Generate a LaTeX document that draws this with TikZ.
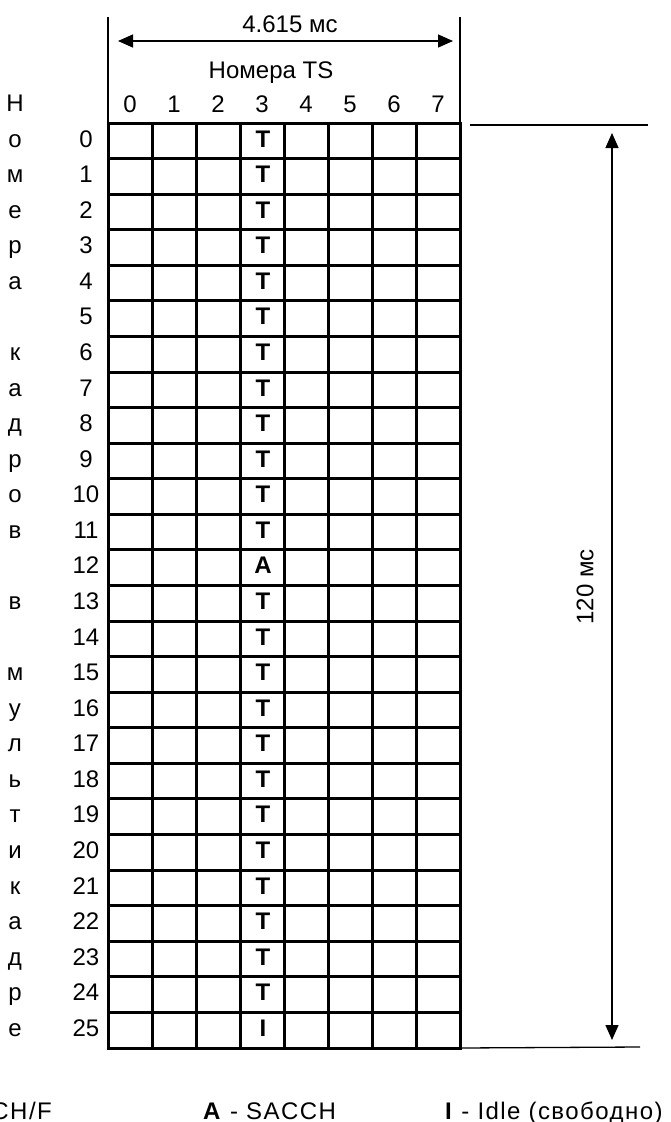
\documentclass[tikz,border=0pt]{standalone}
\usepackage{fontspec}
\setmainfont{Liberation Sans}
\usetikzlibrary{positioning, arrows.meta}

\begin{document}
\begin{tikzpicture}[
    x=1pt, y=-1pt,
    font=\fontsize{24}{28}\selectfont,
    lbl/.style={anchor=base, inner sep=0pt},
    slot/.style={anchor=base, inner sep=0pt, font=\fontsize{24}{28}\selectfont\bfseries},
    legend/.style={inner sep=0pt, font=\fontsize{24}{28}\selectfont\addfontfeatures{LetterSpace=6}},
    frame/.style={draw, line width=3pt, inner sep=0pt, outer sep=0pt, minimum width=352, minimum height=925},
    gridline/.style={line width=3pt},
    thinline/.style={line width=1.3pt},
    dim/.style={{Triangle[length=15pt,width=13pt]}-{Triangle[length=15pt,width=13pt]}, line width=1.3pt}
  ]
  \useasboundingbox (0,0) rectangle (671,1122);

  % сетка мультикадра
  \node[frame, anchor=north west] (grid) at (108,123) {};
  \foreach \c in {1,...,7}
    \draw[gridline] (108+44*\c,123) -- (108+44*\c,1048);
  \foreach \r in {1,...,25}
    \draw[gridline] (108,123+35.577*\r) -- (460,123+35.577*\r);

  % номера TS и кадров
  \foreach \c in {0,...,7}
    \node[lbl] (ts\c) at (130+44*\c,112) {\c};
  \foreach \r in {0,...,25} {
    \node[lbl] (fr\r) at (86,147+35.577*\r) {\r};
    \node[slot] (s\r) at (263,147+35.577*\r) {\ifnum\r=12 A\else\ifnum\r=25 I\else T\fi\fi};
  }

  % вертикальная подпись слева
  \foreach \r/\ch in {-1/Н,0/о,1/м,2/е,3/р,4/а,6/к,7/а,8/д,9/р,10/о,11/в,13/в,
                      15/м,16/у,17/л,18/ь,19/т,20/и,21/к,22/а,23/д,24/р,25/е}
    \node[lbl] (v\r) at (15,147+35.577*\r) {\ch};

  \node[lbl] (tsname) at (271,78) {Номера TS};
  \node[lbl] (period) at (290,32) {4.615 мс};

  % размер по горизонтали
  \coordinate (arrL) at (118,41);
  \coordinate (arrR) at (453,41);
  \draw[thinline] (grid.north west) -- ++(0,-106);
  \draw[thinline] (grid.north east) -- ++(0,-106);
  \draw[dim] (arrL) -- (arrR);

  % размер по вертикали
  \coordinate (extT1) at (470,125);
  \coordinate (extT2) at (648,125);
  \coordinate (extB2) at (640,1047);
  \coordinate (arrT) at (612,133);
  \coordinate (arrB) at (612,1040);
  \draw[thinline] (extT1) -- (extT2);
  \draw[thinline] (grid.south east) -- (extB2);
  \draw[dim] (arrT) -- (arrB);
  \node[rotate=90] (span) at (585,587) {120 мс};

  % легенда
  \node[legend, anchor=base east] (legT) at (52,1119) {\textbf{T} - TCH/F};
  \node[legend, anchor=base west] (legA) at (203,1119) {\textbf{A} - SACCH};
  \node[legend, anchor=base west] (legI) at (445,1119) {\textbf{I} - Idle (свободно)};
\end{tikzpicture}
\end{document}
